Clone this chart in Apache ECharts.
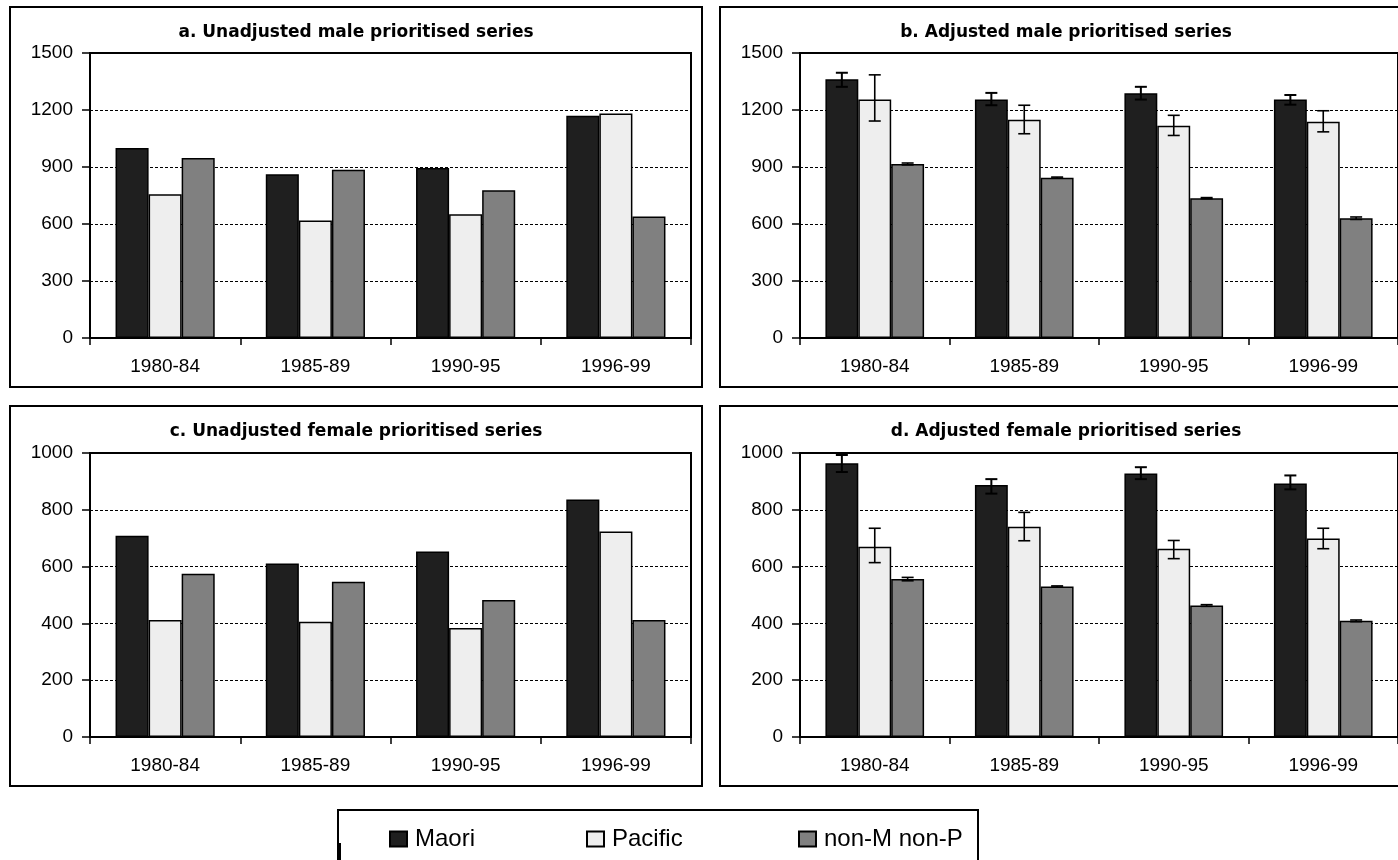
<!DOCTYPE html>
<html>
<head>
<meta charset="utf-8">
<script src="https://cdn.jsdelivr.net/npm/echarts@6/dist/echarts.min.js"></script>
<style>
  html, body { margin: 0; padding: 0; background: #ffffff; }
  #chart { width: 1398px; height: 860px; }
</style>
</head>
<body>
<div id="chart"></div>
<script>
// Periods on the x axis and the three population groups
const periods = ['1980-84', '1985-89', '1990-95', '1996-99'];
const groupNames = ['Maori', 'Pacific', 'non-M non-P'];
const groupColors = ['#1f1f1f', '#eeeeee', '#808080'];

// a. Unadjusted male prioritised series
const maleUnadjMaori   = [1000, 862, 895, 1170];
const maleUnadjPacific = [756, 619, 651, 1181];
const maleUnadjOther   = [947, 885, 778, 640];

// b. Adjusted male prioritised series (rate, lower and upper limit)
const maleAdjMaori       = [1362, 1255, 1288, 1255];
const maleAdjMaoriLow    = [1322, 1225, 1255, 1228];
const maleAdjMaoriHigh   = [1396, 1290, 1322, 1279];
const maleAdjPacific     = [1255, 1149, 1117, 1138];
const maleAdjPacificLow  = [1142, 1075, 1066, 1085];
const maleAdjPacificHigh = [1385, 1225, 1172, 1196];
const maleAdjOther       = [916, 844, 736, 630];
const maleAdjOtherLow    = [911, 841, 733, 624];
const maleAdjOtherHigh   = [921, 847, 739, 637];

// c. Unadjusted female prioritised series
const femUnadjMaori   = [709, 611, 653, 836];
const femUnadjPacific = [412, 406, 384, 724];
const femUnadjOther   = [575, 547, 482, 412];

// d. Adjusted female prioritised series (rate, lower and upper limit)
const femAdjMaori       = [964, 887, 928, 893];
const femAdjMaoriLow    = [933, 857, 908, 872];
const femAdjMaoriHigh   = [993, 908, 950, 921];
const femAdjPacific     = [670, 740, 663, 699];
const femAdjPacificLow  = [614, 691, 628, 663];
const femAdjPacificHigh = [735, 791, 692, 735];
const femAdjOther       = [556, 530, 463, 409];
const femAdjOtherLow    = [550, 528, 460, 406];
const femAdjOtherHigh   = [562, 532, 466, 412];

// Value axis ranges
const maleAxis = { min: 0, max: 1500, interval: 300 };
const femAxis  = { min: 0, max: 1000, interval: 200 };

const panels = [
  { title: 'a. Unadjusted male prioritised series', box: [10, 7],
    grid: { left: 90, top: 53, width: 601, height: 285 }, axis: maleAxis,
    values: [maleUnadjMaori, maleUnadjPacific, maleUnadjOther], errors: null },
  { title: 'b. Adjusted male prioritised series', box: [720, 7],
    grid: { left: 800, top: 53, width: 601, height: 285 }, axis: maleAxis,
    values: [maleAdjMaori, maleAdjPacific, maleAdjOther],
    errors: [[maleAdjMaoriLow, maleAdjMaoriHigh], [maleAdjPacificLow, maleAdjPacificHigh], [maleAdjOtherLow, maleAdjOtherHigh]] },
  { title: 'c. Unadjusted female prioritised series', box: [10, 406],
    grid: { left: 90, top: 453, width: 601, height: 284 }, axis: femAxis,
    values: [femUnadjMaori, femUnadjPacific, femUnadjOther], errors: null },
  { title: 'd. Adjusted female prioritised series', box: [720, 406],
    grid: { left: 800, top: 453, width: 601, height: 284 }, axis: femAxis,
    values: [femAdjMaori, femAdjPacific, femAdjOther],
    errors: [[femAdjMaoriLow, femAdjMaoriHigh], [femAdjPacificLow, femAdjPacificHigh], [femAdjOtherLow, femAdjOtherHigh]] }
];

const BOX_W = 692, BOX_H = 380;
const CAT_GAP = 0.34;                      // share of each category left empty
const BAR_SHARE = (1 - CAT_GAP) / 3;       // width of one bar as share of category

const labelFont = { fontFamily: 'Liberation Sans, Arial, sans-serif', fontSize: 19, color: '#000' };

// Draws a vertical error bar with caps over the bar in the given slot
function errorBar(slot) {
  return function (params, api) {
    const idx = api.value(0);
    const lo = api.coord([idx, api.value(1)]);
    const hi = api.coord([idx, api.value(2)]);
    const band = api.size([1, 0])[0];
    const cx = lo[0] + (slot - 1) * band * BAR_SHARE;
    const half = 6;
    const style = { stroke: '#000', lineWidth: slot === 0 ? 2 : 1.6, fill: null };
    return {
      type: 'group',
      children: [
        { type: 'line', shape: { x1: cx, y1: hi[1], x2: cx, y2: lo[1] }, style },
        { type: 'line', shape: { x1: cx - half, y1: hi[1], x2: cx + half, y2: hi[1] }, style },
        { type: 'line', shape: { x1: cx - half, y1: lo[1], x2: cx + half, y2: lo[1] }, style }
      ]
    };
  };
}

const grids = [], xAxes = [], yAxes = [], series = [], graphics = [];

panels.forEach(function (p, k) {
  grids.push(Object.assign({ show: true, borderColor: '#000', borderWidth: 2, backgroundColor: 'transparent' }, p.grid));

  xAxes.push({
    type: 'category', gridIndex: k, data: periods, boundaryGap: true,
    axisLine: { lineStyle: { color: '#000', width: 2 } },
    axisTick: { show: true, interval: 0, length: 7, lineStyle: { color: '#000', width: 1.5 } },
    axisLabel: Object.assign({ margin: 19, interval: 0 }, labelFont),
    splitLine: { show: false }
  });

  yAxes.push({
    type: 'value', gridIndex: k, min: p.axis.min, max: p.axis.max, interval: p.axis.interval,
    axisLine: { show: true, lineStyle: { color: '#000', width: 2 } },
    axisTick: { show: true, length: 8, lineStyle: { color: '#000', width: 1.5 } },
    axisLabel: Object.assign({ margin: 17, formatter: function (v) { return String(v); } }, labelFont),
    splitLine: { show: true, lineStyle: { color: '#000', width: 1, type: [3, 2] } }
  });

  p.values.forEach(function (vals, g) {
    series.push({
      name: groupNames[g], type: 'bar', xAxisIndex: k, yAxisIndex: k, data: vals,
      barGap: '0%', barCategoryGap: (CAT_GAP * 100) + '%',
      itemStyle: { color: groupColors[g], borderColor: '#000', borderWidth: 1.5 },
      emphasis: { disabled: true }, z: 2
    });
  });

  if (p.errors) {
    p.errors.forEach(function (pair, g) {
      series.push({
        type: 'custom', xAxisIndex: k, yAxisIndex: k,
        renderItem: errorBar(g),
        data: periods.map(function (_, i) { return [i, pair[0][i], pair[1][i]]; }),
        encode: { x: 0, y: [1, 2] }, z: 5, silent: true
      });
    });
  }

  // panel frame and heading
  graphics.push({
    type: 'rect', shape: { x: p.box[0], y: p.box[1], width: BOX_W, height: BOX_H },
    style: { fill: null, stroke: '#000', lineWidth: 2 }, z: 10
  });
  graphics.push({
    type: 'text', x: p.box[0] + BOX_W / 2, y: p.box[1] + 26,
    style: { text: p.title, fill: '#000', font: 'bold 17px "DejaVu Sans", sans-serif', textAlign: 'center', textVerticalAlign: 'middle' },
    z: 10
  });
});

// legend frame, with the heavier stroke on its lower left edge
graphics.push({
  type: 'rect', shape: { x: 338, y: 810, width: 640, height: 70 },
  style: { fill: null, stroke: '#000', lineWidth: 2 }, z: 10
});
graphics.push({
  type: 'line', shape: { x1: 339.5, y1: 843, x2: 339.5, y2: 860 },
  style: { stroke: '#000', lineWidth: 3 }, z: 10
});

const legendStyle = {
  orient: 'horizontal', top: 827, padding: 0, icon: 'rect', itemWidth: 17, itemHeight: 15,
  selectedMode: false,
  textStyle: { fontFamily: 'Liberation Sans, Arial, sans-serif', fontSize: 24, color: '#000', padding: [0, 0, 0, 3] }
};
const legendLefts = [389, 586, 798];
const legends = groupNames.map(function (n, i) {
  return Object.assign({ data: [n], left: legendLefts[i] }, legendStyle);
});

const chart = echarts.init(document.getElementById('chart'), null, { renderer: 'canvas' });
chart.setOption({
  animation: false,
  backgroundColor: '#ffffff',
  grid: grids,
  xAxis: xAxes,
  yAxis: yAxes,
  legend: legends,
  series: series,
  graphic: graphics
});
</script>
</body>
</html>
